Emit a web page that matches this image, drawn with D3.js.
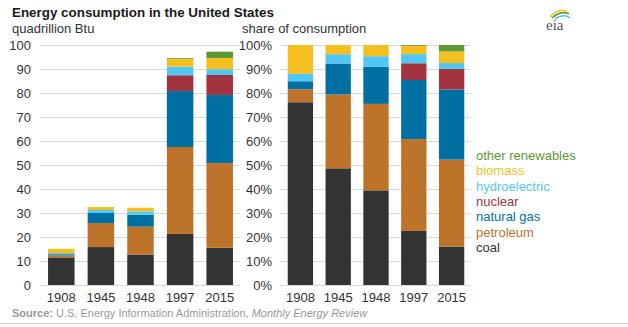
<!DOCTYPE html>
<html>
<head>
<meta charset="utf-8">
<script src="https://cdn.jsdelivr.net/npm/d3@7"></script>
<style>
  body { margin: 0; background: #fff; }
  svg { font-family: "Liberation Sans", Arial, sans-serif; }
</style>
</head>
<body>
<div id="chart-area"></div>
<script>
// Energy consumption in the United States
var years = ["1908", "1945", "1948", "1997", "2015"];
var sources = ["coal", "petroleum", "natural gas", "nuclear", "hydroelectric", "biomass", "other renewables"];
var colors = ["#333333", "#bd7329", "#0070a2", "#a2333f", "#50c8f6", "#f4bf1f", "#5c9935"];

// quadrillion Btu
var coal = [11.5, 15.8, 12.7, 21.3, 15.5];
var petroleum = [0.82, 10.0, 11.6, 36.2, 35.3];
var naturalGas = [0.5, 4.2, 5.0, 23.3, 28.4];
var nuclear = [0, 0, 0, 6.6, 8.3];
var hydroelectric = [0.47, 1.25, 1.4, 3.6, 2.4];
var biomass = [1.81, 1.25, 1.5, 3.3, 4.7];
var otherRenewables = [0, 0, 0, 0.3, 2.6];

var leftTicks = [0, 10, 20, 30, 40, 50, 60, 70, 80, 90, 100];
var rightTicks = [0, 10, 20, 30, 40, 50, 60, 70, 80, 90, 100];

var series = [coal, petroleum, naturalGas, nuclear, hydroelectric, biomass, otherRenewables];

var data = years.map(function(yr, i) {
    var row = { year: yr };
    sources.forEach(function(s, k) { row[s] = series[k][i]; });
    return row;
});
var shareData = data.map(function(d) {
    var total = d3.sum(sources, function(s) { return d[s]; });
    var row = { year: d.year };
    sources.forEach(function(s) { row[s] = d[s] / total * 100; });
    return row;
});

var svg = d3.select("#chart-area").append("svg")
    .attr("width", 628)
    .attr("height", 327);

// titles
svg.append("text")
    .attr("x", 12).attr("y", 17)
    .attr("font-size", "13.4px").attr("font-weight", "bold")
    .style("fill", "#1a1a1a")
    .text("Energy consumption in the United States");
svg.append("text")
    .attr("x", 12).attr("y", 33)
    .attr("font-size", "13px").style("fill", "#333")
    .text("quadrillion Btu");
svg.append("text")
    .attr("x", 242).attr("y", 33)
    .attr("font-size", "13px").style("fill", "#333")
    .text("share of consumption");

var stack = d3.stack().keys(sources);

function drawPanel(rows, xRange, gridRange, labelX, ticks, fmt) {
    var x = d3.scaleBand().domain(years).range(xRange).paddingInner(0.33).paddingOuter(0.165);
    var y = d3.scaleLinear().domain([0, 100]).range([285, 45]);

    var grid = svg.append("g");
    grid.selectAll("line").data(ticks).enter().append("line")
        .attr("x1", gridRange[0]).attr("x2", gridRange[1])
        .attr("y1", function(d) { return Math.round(y(d)) + 0.5; })
        .attr("y2", function(d) { return Math.round(y(d)) + 0.5; })
        .attr("stroke", "#d9d9d9").attr("stroke-width", 1);

    var yAxis = d3.axisLeft(y).tickValues(ticks).tickSize(0).tickFormat(fmt);
    var yg = svg.append("g").attr("transform", "translate(" + labelX + ",0)").call(yAxis);
    yg.select(".domain").remove();
    yg.selectAll("text").attr("x", 0).attr("dy", "0.35em")
        .attr("font-size", "13px").attr("font-family", "Liberation Sans, Arial, sans-serif")
        .style("fill", "#333");

    var layers = svg.append("g").selectAll("g")
        .data(stack(rows)).enter().append("g")
        .attr("fill", function(d, i) { return colors[i]; });
    layers.selectAll("rect").data(function(d) { return d; }).enter().append("rect")
        .attr("x", function(d) { return x(d.data.year); })
        .attr("width", x.bandwidth())
        .attr("y", function(d) { return y(d[1]); })
        .attr("height", function(d) { return y(d[0]) - y(d[1]); });

    var xAxis = d3.axisBottom(x).tickSize(0).tickPadding(0);
    var xg = svg.append("g").attr("transform", "translate(0,290)").call(xAxis);
    xg.select(".domain").remove();
    xg.selectAll("text").attr("dy", "0.71em").attr("y", 3)
        .attr("font-size", "13px").attr("font-family", "Liberation Sans, Arial, sans-serif")
        .style("fill", "#333");
}

drawPanel(data, [41.5, 239.5], [40, 240], 31, leftTicks, d3.format("d"));
drawPanel(shareData, [281.5, 470.5], [280, 470], 272, rightTicks, function(d) { return d + "%"; });

// legend, top entry first
var legend = svg.append("g").attr("transform", "translate(476,160)");
sources.slice().reverse().forEach(function(s, i) {
    legend.append("text")
        .attr("x", 0).attr("y", i * 15.3)
        .attr("font-size", "13px")
        .style("fill", colors[sources.length - 1 - i])
        .text(s);
});

// source line
var src = svg.append("text").attr("x", 12).attr("y", 317)
    .attr("font-size", "11px").style("fill", "#999");
src.append("tspan").attr("font-weight", "bold").text("Source:");
src.append("tspan").text(" U.S. Energy Information Administration, ");
src.append("tspan").attr("font-style", "italic").text("Monthly Energy Review");
svg.append("line").attr("x1", 0).attr("x2", 628).attr("y1", 323.5).attr("y2", 323.5)
    .attr("stroke", "#d0d0d0").attr("stroke-width", 1);

// eia logo
var logo = svg.append("g");
logo.append("path").attr("d", "M550,17 Q558,8 567,11").attr("fill", "none").attr("stroke", "#f4bf1f").attr("stroke-width", 1.6);
logo.append("path").attr("d", "M552,18 Q561,10 569,14").attr("fill", "none").attr("stroke", "#5c9935").attr("stroke-width", 1.6);
logo.append("path").attr("d", "M555,19 Q564,13 570,18").attr("fill", "none").attr("stroke", "#50c8f6").attr("stroke-width", 1.6);
logo.append("text").attr("x", 546).attr("y", 30)
    .attr("font-size", "15px").attr("font-family", "Liberation Serif, serif")
    .style("fill", "#555").text("eia");
</script>
</body>
</html>
